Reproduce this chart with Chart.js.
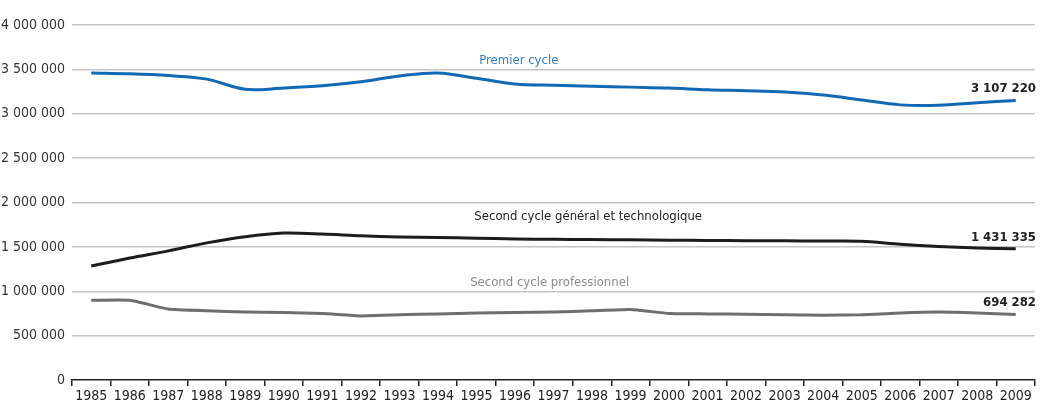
<!DOCTYPE html>
<html>
<head>
<meta charset="utf-8">
<script src="https://cdn.jsdelivr.net/npm/chart.js@4/dist/chart.umd.min.js"></script>
<style>
    html, body { margin: 0; padding: 0; background: #fff; }
    #wrap { width: 1046px; height: 408px; }
</style>
</head>
<body>
<div id="wrap"><canvas id="effectifsCanvas" width="1046" height="408"></canvas></div>
<script>
/* Effectifs par cycle, 1985-2009 */

const years = ['1985', '1986', '1987', '1988', '1989', '1990', '1991', '1992', '1993', '1994',
    '1995', '1996', '1997', '1998', '1999', '2000', '2001', '2002', '2003', '2004',
    '2005', '2006', '2007', '2008', '2009'];

const premierCycle = [3459000, 3450000, 3430000, 3390000, 3275000, 3290000, 3315000, 3360000, 3425000, 3460000,
    3400000, 3335000, 3320000, 3310000, 3300000, 3290000, 3270000, 3260000, 3245000, 3210000,
    3155000, 3100000, 3095000, 3125000, 3150000];

const secondCycleGT = [1285000, 1375000, 1455000, 1545000, 1615000, 1655000, 1645000, 1625000, 1612000, 1605000,
    1598000, 1590000, 1585000, 1582000, 1579000, 1576000, 1573000, 1570000, 1568000, 1566000,
    1564000, 1530000, 1505000, 1487000, 1478000];

const secondCyclePro = [898000, 898000, 800000, 780000, 765000, 760000, 750000, 722000, 735000, 745000,
    755000, 760000, 765000, 780000, 795000, 750000, 745000, 740000, 735000, 730000,
    735000, 755000, 765000, 755000, 738000];

const lastValues = ['3 107 220', '1 431 335', '694 282'];
const seriesNames = ['Premier cycle', 'Second cycle général et technologique', 'Second cycle professionnel'];

const yTicks = { min: 0, max: 4000000, step: 500000 };

const FONT = '"Liberation Sans Narrow", "DejaVu Sans Condensed", "Roboto Condensed", sans-serif';

// Libellés des séries et valeurs finales
const labelsPlugin = {
    id: 'seriesLabels',
    afterDatasetsDraw(chart) {
        const { ctx, scales: { x, y }, chartArea } = chart;
        ctx.save();
        ctx.font = '13px ' + FONT;
        ctx.textBaseline = 'bottom';
        ctx.textAlign = 'center';

        // noms des séries
        const spots = [
            { idx: 11.1, val: 3520000, color: '#2f7fc4' },
            { idx: 12.9, val: 1770000, color: '#222222' },
            { idx: 11.9, val: 1020000, color: '#8a8a8a' }
        ];
        spots.forEach((s, i) => {
            ctx.fillStyle = s.color;
            ctx.fillText(seriesNames[i], x.getPixelForValue(s.idx), y.getPixelForValue(s.val));
        });

        // valeurs 2009
        ctx.font = 'bold 13px ' + FONT;
        ctx.textAlign = 'right';
        ctx.fillStyle = '#222222';
        chart.data.datasets.forEach((ds, i) => {
            const last = ds.data[ds.data.length - 1];
            ctx.fillText(lastValues[i], chartArea.right + 1, y.getPixelForValue(last) - 5);
        });
        ctx.restore();
    }
};

const chart = new Chart(document.getElementById('effectifsCanvas'), {
    type: 'line',
    data: {
        labels: years,
        datasets: [
            {
                label: seriesNames[0],
                data: premierCycle,
                borderColor: '#1169b4',
                borderWidth: 3,
                tension: 0.35,
                pointRadius: 0,
                fill: false
            },
            {
                label: seriesNames[1],
                data: secondCycleGT,
                borderColor: '#1c1c1c',
                borderWidth: 3,
                tension: 0.3,
                pointRadius: 0,
                fill: false
            },
            {
                label: seriesNames[2],
                data: secondCyclePro,
                borderColor: '#6e6e6e',
                borderWidth: 3,
                tension: 0.15,
                pointRadius: 0,
                fill: false
            }
        ]
    },
    options: {
        responsive: false,
        animation: false,
        layout: { padding: { top: 25, right: 11, left: 0, bottom: 0 } },
        plugins: {
            legend: { display: false },
            tooltip: { enabled: false }
        },
        scales: {
            x: {
                type: 'category',
                offset: true,
                border: { display: true, color: '#222', width: 1.5 },
                grid: {
                    offset: true,
                    drawOnChartArea: false,
                    drawTicks: true,
                    tickLength: 6,
                    color: '#222',
                    lineWidth: 1.5
                },
                ticks: {
                    color: '#222',
                    font: { family: FONT, size: 14 },
                    padding: 2,
                    maxRotation: 0,
                    autoSkip: false
                },
                afterFit: scale => { scale.height = 28; }
            },
            y: {
                min: yTicks.min,
                max: yTicks.max,
                border: { display: false },
                grid: {
                    color: ctx => ctx.tick.value === 0 ? 'rgba(0,0,0,0)' : '#c4c4c4',
                    lineWidth: 1.5,
                    drawTicks: false
                },
                ticks: {
                    stepSize: yTicks.step,
                    color: '#333',
                    padding: 7,
                    font: { family: FONT, size: 14 },
                    callback: value => String(value).replace(/\B(?=(\d{3})+(?!\d))/g, ' ')
                },
                afterFit: scale => { scale.width = 72; }
            }
        }
    },
    plugins: [labelsPlugin]
});
</script>
</body>
</html>
